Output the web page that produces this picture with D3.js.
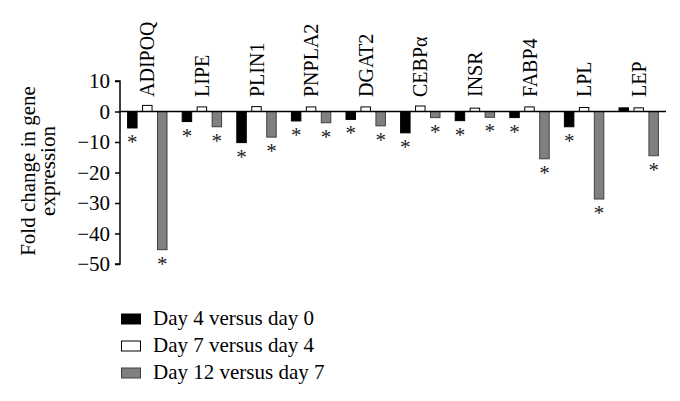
<!DOCTYPE html>
<html><head><meta charset="utf-8">
<script src="https://cdn.jsdelivr.net/npm/d3@7"></script>
<style>html,body{margin:0;padding:0;background:#fff;}svg{display:block;}</style>
</head><body>
<script>
const genes = ["ADIPOQ","LIPE","PLIN1","PNPLA2","DGAT2","CEBPα","INSR","FABP4","LPL","LEP"];
const seriesNames = ["Day 4 versus day 0","Day 7 versus day 4","Day 12 versus day 7"];
const day4vs0  = [-5.4,-3.3,-10.2,-3.1,-2.6,-7.0,-3.0,-2.0,-5.0,1.2];
const day7vs4  = [2.0,1.5,1.6,1.5,1.5,1.8,1.1,1.5,1.3,1.2];
const day12vs7 = [-45.3,-5.0,-8.4,-3.7,-4.7,-2.0,-1.9,-15.5,-28.7,-14.5];
const yTicks = [10,0,-10,-20,-30,-40,-50];
const fills = ["#000000","#ffffff","#808080"];
const strokes = ["#000000","#000000","#404040"];

const W=680,H=401;
const svg=d3.select("body").append("svg").attr("width",W).attr("height",H);
const font="'Liberation Serif','Times New Roman',serif";

const y=d3.scaleLinear().domain([-50,10]).range([264,81]);
const x0=d3.scaleBand().domain(genes).range([120,666]).paddingInner(0.26).paddingOuter(0.13);
const x1=d3.scaleBand().domain([0,1,2]).range([0,x0.bandwidth()]).paddingInner(0.3);

const data=[day4vs0,day7vs4,day12vs7];
const g=svg.append("g");
genes.forEach((gene,i)=>{
  data.forEach((arr,s)=>{
    const v=arr[i];
    const bx=x0(gene)+x1(s);
    g.append("rect").attr("x",bx+0.5).attr("y",Math.min(y(v),y(0))).attr("width",x1.bandwidth()-1)
      .attr("height",Math.abs(y(v)-y(0))).attr("fill",fills[s]).attr("stroke",strokes[s]).attr("stroke-width",1);
    if(v<0 && s!==1){
      g.append("text").attr("x",bx+x1.bandwidth()/2).attr("y",y(v)+21).attr("text-anchor","middle")
        .attr("font-family",font).attr("font-size",21).attr("fill","#222").text("*");
    }
  });
  g.append("text").attr("transform",`translate(${x0(gene)+x0.bandwidth()/2+7},97) rotate(-90)`)
    .attr("font-family",font).attr("font-size",20).attr("fill","#000").text(gene);
});

// zero line
svg.append("line").attr("x1",120).attr("x2",666).attr("y1",y(0)).attr("y2",y(0)).attr("stroke","#000").attr("stroke-width",1.5);

// y axis
const yAxis=svg.append("g").attr("transform","translate(120,0)")
  .call(d3.axisLeft(y).tickValues(yTicks).tickSize(5).tickPadding(5).tickFormat(d=>d<0?"\u2212"+Math.abs(d):d));
yAxis.select(".domain").attr("stroke","#000").attr("stroke-width",1.5).attr("d",`M-5,${y(10)}H0V${y(-50)}H-5`);
yAxis.selectAll(".tick line").attr("stroke","#000").attr("stroke-width",1.5);
yAxis.selectAll(".tick text").attr("font-family",font).attr("font-size",21).attr("fill","#000");

// y title
const yt=svg.append("text").attr("transform",`translate(0,171) rotate(-90)`).attr("text-anchor","middle")
  .attr("font-family",font).attr("font-size",21).attr("fill","#000");
yt.append("tspan").attr("x",0).attr("y",35).text("Fold change in gene");
yt.append("tspan").attr("x",0).attr("y",55).text("expression");

// legend
seriesNames.forEach((n,i)=>{
  const cy=319+i*27;
  svg.append("rect").attr("x",121.5).attr("y",cy-5).attr("width",19).attr("height",10)
    .attr("fill",fills[i]).attr("stroke",strokes[i]).attr("stroke-width",1);
  svg.append("text").attr("x",153).attr("y",cy+6).attr("font-family",font).attr("font-size",21).attr("fill","#000").text(n);
});
</script>
</body></html>
